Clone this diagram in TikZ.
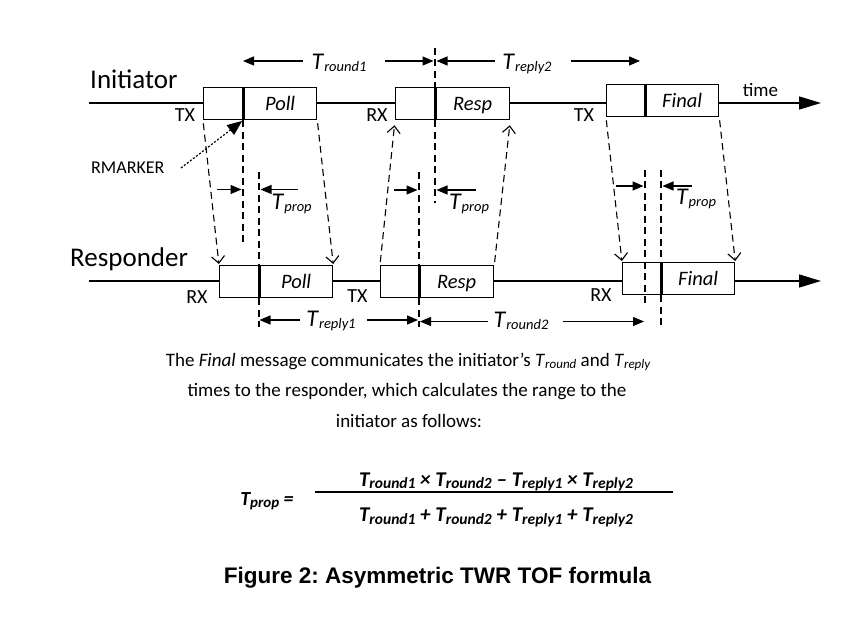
\documentclass[tikz,border=0pt]{standalone}
\usepackage{fontspec}
\setmainfont{Carlito}
\newfontfamily\capfont{Liberation Sans}
\usetikzlibrary{arrows.meta}
\frenchspacing
\newcommand{\Tsub}[2]{\textit{T}\raisebox{-2pt}{\fontsize{#2}{#2}\selectfont\itshape #1}}
\newcommand{\Tb}[2][15.5]{\textbf{\textit{T}}\raisebox{-2.5pt}{\fontsize{#1}{#1}\selectfont\bfseries\itshape #2}}
\tikzset{
  pre/.style={draw, line width=1.3pt, fill=white, anchor=north west, minimum height=32pt, inner sep=0pt},
  dat/.style={pre, text height=14pt, text depth=0pt, font=\fontsize{20.5}{20.5}\selectfont\itshape},
  divider/.style={line width=3pt},
  timeline/.style={line width=1.3pt, -{Triangle[length=22pt,width=13pt]}},
  sig/.style={line width=1.1pt, dash pattern=on 7pt off 4.5pt, -{Straight Barb[length=7pt,width=13pt]}},
  vdash/.style={line width=1.1pt, dash pattern=on 7pt off 4.5pt},
  dim/.style={line width=1.3pt, -{Triangle[length=11pt,width=9pt]}},
  rmk/.style={line width=1.2pt, dash pattern=on 2pt off 1.8pt, -{Triangle[length=15pt,width=12pt]}},
  lbl/.style={font=\fontsize{20}{20}\selectfont, anchor=base, inner sep=0pt},
  big/.style={font=\fontsize{27}{27}\selectfont, anchor=base west, inner sep=0pt},
  tl/.style={font=\fontsize{24}{24}\selectfont, anchor=base, inner sep=0pt},
  para/.style={font=\fontsize{19}{19}\selectfont, anchor=base, inner sep=0pt},
  frm/.style={font=\fontsize{21}{21}\selectfont\bfseries\itshape, anchor=base, inner sep=0pt},
}
\begin{document}
\begin{tikzpicture}[x=1pt,y=-1pt]
\useasboundingbox (0,0) rectangle (862,617);
\fill[white] (0,0) rectangle (862,617);
% time lines
\coordinate (is) at (89,103); \coordinate (ie) at (821,103);
\coordinate (rs) at (89,281); \coordinate (re) at (821,281);
\draw[timeline] (is) -- (ie);
\draw[timeline] (rs) -- (re);
% initiator boxes
\node[pre, minimum width=40pt] (ipollA) at (203,87) {};
\node[dat, minimum width=73pt] (ipollD) at (243,87) {Poll};
\node[pre, minimum width=40pt] (iresA) at (395,87) {};
\node[dat, minimum width=74pt] (iresD) at (435,87) {Resp};
\node[pre, minimum width=39pt] (ifinA) at (606,84) {};
\node[dat, minimum width=73pt] (ifinD) at (645,84) {Final};
% responder boxes
\node[pre, minimum width=40pt] (rpollA) at (219,265) {};
\node[dat, minimum width=73pt] (rpollD) at (259,265) {Poll};
\node[pre, minimum width=39pt] (rresA) at (380,265) {};
\node[dat, minimum width=74pt] (rresD) at (419,265) {Resp};
\node[pre, minimum width=39pt] (rfinA) at (622,262) {};
\node[dat, minimum width=73pt] (rfinD) at (661,262) {Final};
% dividers
\foreach \n in {ipollD,iresD,ifinD,rpollD,rresD,rfinD}
  \draw[divider] (\n.north west) -- (\n.south west);
% labels
\node[big] (init) at (90,88.3) {Initiator};
\node[big] (resp) at (70,266.7) {Responder};
\node[lbl] (tx1) at (185,121.5) {TX};
\node[lbl] (rx1) at (377,121.5) {RX};
\node[lbl] (tx2) at (584,121.7) {TX};
\node[lbl] (rx2) at (197,303.3) {RX};
\node[lbl] (tx3) at (357.5,303) {TX};
\node[lbl] (rx3) at (601,301.7) {RX};
\node[lbl, font=\fontsize{19}{19}\selectfont] (time) at (760.5,96.7) {time};
\node[lbl, anchor=base west, font=\fontsize{18}{18}\selectfont] (rm) at (91,173.3) {RMARKER};
% rmarker arrow
\coordinate (rms) at (181,168);
\draw[rmk, shorten >=1pt] (rms) -- (ipollD.south west);
% signal arrows
\draw[sig, shorten <=3pt, shorten >=1pt] (ipollA.south west) -- (rpollA.north west);
\draw[sig, shorten <=3pt, shorten >=1pt] (ipollD.south east) -- (rpollD.north east);
\draw[sig, shorten >=5pt, shorten <=3pt] (rresA.north west) -- (iresA.south west);
\draw[sig, shorten >=5pt, shorten <=3pt] (rresD.north east) -- (iresD.south east);
\draw[sig, shorten <=3pt, shorten >=1pt] (ifinA.south west) -- (rfinA.north west);
\draw[sig, shorten <=3pt, shorten >=1pt] (ifinD.south east) -- (rfinD.north east);
% vertical dashed
\coordinate (g1a) at (243,242);
\coordinate (g1t) at (259,172); \coordinate (g1b) at (259,327);
\draw[vdash] (ipollD.south west) -- (g1a);
\draw[vdash] (g1t) -- (rpollD.north west);
\draw[vdash] (rpollD.south west) -- (g1b);
\coordinate (g2t) at (435,48); \coordinate (g2a) at (435,203);
\coordinate (g2u) at (419,172); \coordinate (g2b) at (419,327);
\draw[vdash] (g2t) -- (iresD.north west);
\draw[vdash] (iresD.south west) -- (g2a);
\draw[vdash] (g2u) -- (rresD.north west);
\draw[vdash] (rresD.south west) -- (g2b);
\coordinate (g3t) at (645,170); \coordinate (g3a) at (645,307);
\coordinate (g3u) at (661,170); \coordinate (g3b) at (661,325);
\draw[vdash] (g3t) -- (g3a);
\draw[vdash] (g3u) -- (rfinD.north west);
\draw[vdash] (rfinD.south west) -- (g3b);
% Tprop arrows
\coordinate (p1a) at (217,189.5); \coordinate (p1b) at (241.5,189.5);
\coordinate (p1c) at (298,189.5); \coordinate (p1d) at (260.5,189.5);
\draw[dim] (p1a) -- (p1b); \draw[dim] (p1c) -- (p1d);
\node[tl] (tp1) at (291.7,209.3) {\Tsub{prop}{14.5}};
\coordinate (p2a) at (394,190); \coordinate (p2b) at (417.5,190);
\coordinate (p2c) at (476,190); \coordinate (p2d) at (436.5,190);
\draw[dim] (p2a) -- (p2b); \draw[dim] (p2c) -- (p2d);
\node[tl] (tp2) at (469,210) {\Tsub{prop}{14.5}};
\coordinate (p3a) at (616,186); \coordinate (p3b) at (643.5,186);
\coordinate (p3c) at (692,186); \coordinate (p3d) at (662.5,186);
\draw[dim] (p3a) -- (p3b); \draw[dim] (p3c) -- (p3d);
\node[tl] (tp3) at (696,205) {\Tsub{prop}{14.5}};
% round / reply dims
\node[tl] (tr1) at (339,69.3) {\Tsub{round1}{14.5}};
\coordinate (a1) at (303,61); \coordinate (a2) at (243,61);
\coordinate (a3) at (385,61); \coordinate (a4) at (433.5,61);
\draw[dim] (a1) -- (a2); \draw[dim] (a3) -- (a4);
\node[tl] (tp2r) at (527,69.3) {\Tsub{reply2}{14.5}};
\coordinate (b1) at (495,61); \coordinate (b2) at (436.5,61);
\coordinate (b3) at (571,61); \coordinate (b4) at (640,61);
\draw[dim] (b1) -- (b2); \draw[dim] (b3) -- (b4);
\node[tl] (trp1) at (331,326.7) {\Tsub{reply1}{14.5}};
\coordinate (c1) at (300,320); \coordinate (c2) at (259.5,320);
\coordinate (c3) at (367,320); \coordinate (c4) at (418,320);
\draw[dim] (c1) -- (c2); \draw[dim] (c3) -- (c4);
\node[tl] (tr2) at (521,328) {\Tsub{round2}{14.5}};
\coordinate (d1) at (488,321.5); \coordinate (d2) at (420,321.5);
\coordinate (d3) at (563,321.5); \coordinate (d4) at (644,321.5);
\draw[dim] (d1) -- (d2); \draw[dim] (d3) -- (d4);
% paragraph
\node[para] (l1) at (408,366.7) {The \textit{Final} message communicates the initiator’s \Tsub{round}{13} and \Tsub{reply}{13}};
\node[para] (l2) at (407,396.7) {times to the responder, which calculates the range to the};
\node[para] (l3) at (409,427.3) {initiator as follows:};
% formula
\node[frm, font=\fontsize{20}{20}\selectfont\bfseries\itshape] (tpf) at (267,505) {\Tb[15]{prop} =};
\coordinate (fl) at (315,492); \coordinate (fr) at (673,492);
\draw[line width=1.3pt] (fl) -- (fr);
\node[frm] (num) at (496,486) {\Tb{round1} × \Tb{round2} – \Tb{reply1} × \Tb{reply2}};
\node[frm] (den) at (496,521.7) {\Tb{round1} + \Tb{round2} + \Tb{reply1} + \Tb{reply2}};
% caption
\node[anchor=base, inner sep=0pt, font=\capfont\bfseries\fontsize{22.5}{22.5}\selectfont] (cap) at (437.5,583.3) {Figure 2: Asymmetric TWR TOF formula};
\end{tikzpicture}
\end{document}
